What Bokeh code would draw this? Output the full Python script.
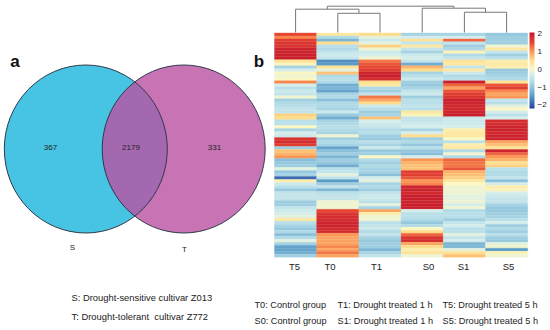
from bokeh.plotting import figure
from bokeh.models import ColumnDataSource, LinearColorMapper, ColorBar, FixedTicker, Range1d
from bokeh.core.properties import value
from bokeh.embed import file_html
from bokeh.resources import INLINE
import numpy as np

venn_sets = ["S", "T"]
venn_counts = [367, 2179, 331]
columns = ["T5", "T0", "T1", "S0", "S1", "S5"]
T5 = [1.5,1.1,1.6,1.7,1.7,1.9,1.9,1.95,1.95,.4,.1,-.8,-.3,0,-.1,0,1.1,-.3,-.6,
      -.4,-.5,-.1,-.9,-.7,-.6,-.5,-.5,.6,.5,-.6,-.6,0,-.8,-.3,-.4,1.7,1.8,1.6,-.9,
      .7,.8,1.0,-1.1,-1.0,-.9,-.2,-1,-.8,-1.9,.2,-.4,-.6,-1,-.5,-.5,-.5,-.9,-.9,-.5,
      -.4,-.3,-.2,.3,-.6,-.8,-1,-.7,-1.1,-.7,-.2,-.8,-1.4,-1.4,-1.3,-.9]
T0 = [.3,-.7,-1.2,.5,-.6,-.7,-.5,-.4,-.5,-1.6,-1.5,.4,-.2,.7,-.7,-.6,-.7,-1.3,-1.2,
      -1.4,-.8,-.7,-1.1,-.7,-.7,-.8,-.4,-1.0,-1.3,-.8,-.7,-.6,-.7,-.8,-.1,-.9,-.7,-.8,-1.4,
      -1.1,-.9,-1.2,-.9,-1.0,-1.3,-.6,-.5,-.2,-.5,-1.5,-.9,-.5,-1.2,-.6,-.5,-.5,-.1,-.1,-.1,
      1.5,1.7,1.8,1.8,1.9,1.9,1.8,1.8,1.0,.9,.9,.9,1.1,.9,1.2,.9]
T1 = [.5,-.2,-.4,-.2,.6,-.1,-.4,-.3,-.1,1.2,1.4,1.5,1.6,1.9,1.95,1.8,.5,.3,-.7,
      -.9,-.5,1.2,.9,.5,-.4,-.6,-.9,-.8,.7,-.3,-.4,-.5,-.7,-.6,-.9,-1,-.6,-.8,-.4,
      -1,-.9,0,-.7,-.9,-.7,-.8,-.8,-1.1,-.3,-.2,-.8,-.7,-.9,-.5,-.4,-.4,-.6,-.2,-.8,
      .9,.2,-.1,-.1,-.6,-.5,-.4,-.7,-.5,-.8,-1.0,-.9,-.9,-1.2,-.8,-.5]
S0 = [-.8,-.3,.4,-.5,.3,-.5,-.8,-.4,-.3,-.5,-1.3,.8,.5,-.8,-.6,-.4,-.9,-1,-.8,
      -.5,-.4,-.9,-.6,-.6,-.5,-.6,.3,.1,-.5,-.5,-.4,-.3,-.8,-.3,.5,-.9,-.7,-1,-.6,
      -1,-1.1,-.3,1.0,.8,.7,.7,1.6,1.6,1.4,1.0,1.1,1.9,1.9,1.85,1.95,1.95,1.9,1.95,1.95,
      -.3,-.6,-.6,-.7,-1.0,-.7,.0,.5,1.3,1.7,1.8,.9,.5,.2,.4,-.1]
S1 = [-.8,-.3,1.3,-.5,-.9,-.7,.1,-.7,-.5,.4,.3,-.5,.3,-.4,-.7,-.6,1.95,1.3,.9,
      1.4,1.6,1.7,1.95,1.9,1.85,1.85,1.9,1.95,-.4,-.4,-.4,-.3,.2,.3,.3,0,-.6,.2,.3,
      -.7,-.1,-.7,1.3,1.2,1.2,1.4,.8,.7,.6,.3,.0,-.1,-.1,-.1,-.2,-.2,-.1,-.3,-.1,
      -.7,-.6,-.6,-.9,-.5,-.3,-.6,-.6,-.2,-.5,-.3,-1.2,-1.2,-.2,.4,.7]
S5 = [-1,-.9,-.9,-.9,-.1,.3,-.5,-.9,-.6,.2,.3,.2,-1,-.9,-.8,-.7,.4,1.4,1.6,
      1.1,.9,1.0,-.5,-.6,-.2,.0,-.3,-.6,-.3,1.8,1.8,1.9,1.9,1.85,1.9,1.9,.9,.7,.4,
      1.9,1.3,1.0,.8,.4,.6,-.6,-.7,-.7,-.5,-1.1,-.3,.2,.1,-.3,-.4,-.5,-.5,-.8,-1.0,
      -1.0,-.9,-.8,-.6,-.3,-.9,-.7,-.9,-.6,-.9,-1,-.2,-.1,-1.5,.1,-.1]
series = [T5, T0, T1, S0, S1, S5]
# dendrogram merge heights
merge_T0_T1 = 0.73
merge_T5 = 0.886
merge_S1_S5 = 0.77
merge_S0 = 0.924
merge_top = 1.0
cbar_ticks = [-2, -1, 0, 1, 2]

W, H = 550, 330
p = figure(width=W, height=H, x_range=(0, W), y_range=(H, 0), toolbar_location=None,
           output_backend="svg", min_border=0, outline_line_color=None,
           x_axis_location=None, y_axis_location=None,
           styles={"position": "absolute", "left": "0px", "top": "0px"})
p.grid.visible = False

# heat map ranges
hx0, cw = 274.0, 42.2
hy0, rh = 32.4, 224.3 / 75
p.extra_x_ranges["hx"] = Range1d(-hx0 / cw, (W - hx0) / cw)
p.extra_y_ranges["hy"] = Range1d((H - hy0) / rh, -hy0 / rh)
dh = 26.3
p.extra_y_ranges["hd"] = Range1d((32 - H) / dh, 32 / dh)

# Venn
vw, vh = 163, 168
L, R = 85.3, 183.2
vy = 148.5
p.ellipse([L], [vy], width=vw, height=vh, fill_color="#47c3e3", line_color=None)
p.ellipse([R], [vy], width=vw, height=vh, fill_color="#ba51a1", fill_alpha=0.8, line_color=None)
p.ellipse([L, R], [vy, vy], width=vw, height=vh, fill_color=None, line_color="#2e3a4a", line_width=1)

F = value("Liberation Sans")
def txt(x, y, s, size="9.5px", align="left", style="normal", color="#222222"):
    p.text([x], [y], text=[s], text_font=F, text_font_size=size, text_align=align,
           text_baseline="middle", text_font_style=style, text_color=color)

for x, c in zip([50, 130.5, 214], venn_counts):
    txt(x, 147, str(c), size="8px", align="center")
txt(14.5, 61, "a", size="17px", align="center", style="bold", color="#111111")
txt(258.5, 61, "b", size="17px", align="center", style="bold", color="#111111")
for x, y, s in zip([72, 184], [247, 248.5], venn_sets):
    txt(x, y, s, size="8px", align="center")
txt(71, 297, "S: Drought-sensitive cultivar Z013", size="9.4px")
txt(71, 316, "T: Drought-tolerant\u00a0 cultivar Z772", size="9.4px")

# heat map
xs, ys, vs = [], [], []
for i, col in enumerate(series):
    for r, v in enumerate(col):
        xs.append(i + 0.5); ys.append(r + 0.5); vs.append(v)
anchors_v = [-2.2, -2, -1.5, -1, -0.6, -0.3, 0, 0.5, 1, 1.5, 2.05]
anchors_c = [(40, 60, 150), (50, 95, 170), (90, 155, 200), (150, 200, 222), (185, 224, 233), (214, 237, 236),
             (252, 248, 195), (254, 222, 140), (252, 150, 85), (230, 70, 50), (196, 24, 44)]
grid = np.linspace(-2.2, 2.05, 256)
palette = ["#%02x%02x%02x" % tuple(int(round(np.interp(g, anchors_v, [c[k] for c in anchors_c]))) for k in range(3)) for g in grid]
mapper = LinearColorMapper(palette=palette, low=-2.2, high=2.05)
src = ColumnDataSource(dict(x=xs, y=ys, v=vs))
p.rect("x", "y", width=1, height=1, source=src, x_range_name="hx", y_range_name="hy",
       fill_color={"field": "v", "transform": mapper}, line_color={"field": "v", "transform": mapper}, line_width=0.3)

# dendrogram
def link(xa, ha, xb, hb, h):
    p.line([xa, xa, xb, xb], [ha, h, h, hb], x_range_name="hx", y_range_name="hd", line_color="#777777", line_width=1)
    return (xa + xb) / 2
a = link(1.5, 0, 2.5, 0, merge_T0_T1)
a = link(0.5, 0, a, merge_T0_T1, merge_T5)
b = link(4.5, 0, 5.5, 0, merge_S1_S5)
b = link(3.5, 0, b, merge_S1_S5, merge_S0)
link(a, merge_T5, b, merge_S0, merge_top)

# colour bar
cb = ColorBar(color_mapper=mapper, width=5, height=76, location=(529, 330 - 108), padding=0, margin=0,
              ticker=FixedTicker(ticks=cbar_ticks), major_label_text_font="Liberation Sans",
              major_label_text_font_size="8px", major_label_text_color="#222222",
              major_tick_line_color=None, minor_tick_line_color=None, bar_line_color=None,
              border_line_color=None, background_fill_color=None, label_standoff=3,
              major_label_overrides={-2: "\u22122", -1: "\u22121", 0: "0", 1: "1", 2: "2"})
p.add_layout(cb, "center")

for x, s in zip([294, 329.5, 376, 428, 463, 508], columns):
    txt(x, 265.5, s, align="center")

for y, prefix in zip([304, 320.5], ["T", "S"]):
    txt(254, y, f"{prefix}0: Control group", size="9.2px")
    txt(337, y, f"{prefix}1: Drought treated 1 h", size="9.2px")
    txt(442, y, f"{prefix}5: Drought treated 5 h", size="9.2px")

open("out.html", "w").write(file_html(p, INLINE))
